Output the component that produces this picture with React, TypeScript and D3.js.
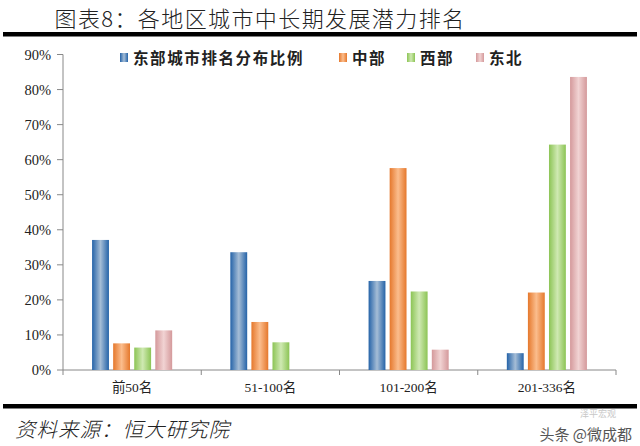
import React from "react";
import * as d3 from "d3";

const categories = ["前50名", "51-100名", "101-200名", "201-336名"];
const seriesNames = ["东部城市排名分布比例", "中部", "西部", "东北"];
const east = [37.1, 33.6, 25.4, 4.8];
const central = [7.6, 13.7, 57.6, 22.1];
const west = [6.4, 7.9, 22.4, 64.3];
const northeast = [11.3, 0, 5.8, 83.6];
const yTicks = [0, 10, 20, 30, 40, 50, 60, 70, 80, 90];

const seriesValues = [east, central, west, northeast];
const edgeColors = ["#2563a8", "#e5782c", "#8cc455", "#d4999b"];
const midColors = ["#a5bdd6", "#fbbd8d", "#cfe9b2", "#f1d3d3"];
const legendX = [120, 339, 407, 476];

const W = 640;
const H = 446;
const left = 63;
const right = 616;
const top = 54.5;
const bottom = 370;

export default function App() {
  const x = d3.scaleBand<string>().domain(categories).range([left, right]);
  const y = d3.scaleLinear().domain([0, 90]).range([bottom, top]);
  const inner = d3
    .scaleBand<number>()
    .domain([0, 1, 2, 3])
    .range([0, x.bandwidth()])
    .paddingInner(0.2)
    .paddingOuter(1.38);
  const cjk = "'Noto Sans CJK SC', sans-serif";
  const serif = "'Liberation Serif', 'Noto Sans CJK SC', serif";
  const bounds = [...categories.map((c) => x(c)!), right];

  return (
    <svg
      width={W}
      height={H}
      style={{ position: "absolute", left: 0, top: 0, background: "#fff" }}
    >
      <defs>
        {edgeColors.map((c, i) => (
          <linearGradient key={i} id={`g${i}`} x1="0" x2="1" y1="0" y2="0">
            <stop offset="0" stopColor={c} />
            <stop offset="0.5" stopColor={midColors[i]} />
            <stop offset="1" stopColor={c} />
          </linearGradient>
        ))}
      </defs>
      <rect x={0} y={0} width={W} height={H} fill="#fff" />
      {/* title */}
      <text
        x={260}
        y={27}
        textAnchor="middle"
        fontFamily={cjk}
        fontWeight={300}
        fontSize={22}
        letterSpacing={1.4}
        fill="#222"
      >
        图表8：各地区城市中长期发展潜力排名
      </text>
      <rect x={3} y={32} width={634} height={4.5} fill="#000" />
      <rect x={3} y={404} width={634} height={4.5} fill="#000" />

      {/* y axis */}
      <line x1={left} x2={left} y1={top} y2={bottom} stroke="#888" />
      {yTicks.map((t) => (
        <g key={t}>
          <line x1={left - 6} x2={left} y1={y(t)} y2={y(t)} stroke="#888" />
          <text
            x={51}
            y={y(t)}
            dy="0.35em"
            textAnchor="end"
            fontFamily={serif}
            fontSize={14.5}
            fill="#222"
          >
            {t}%
          </text>
        </g>
      ))}
      {/* x axis */}
      <line x1={left} x2={right} y1={bottom} y2={bottom} stroke="#888" />
      {bounds.map((b, i) => (
        <line key={i} x1={b} x2={b} y1={bottom} y2={bottom + 5} stroke="#888" />
      ))}
      {categories.map((c) => (
        <text
          key={c}
          x={x(c)! + x.bandwidth() / 2}
          y={392}
          textAnchor="middle"
          fontFamily={serif}
          fontSize={13.5}
          fill="#222"
        >
          {c}
        </text>
      ))}

      {/* bars */}
      {seriesValues.map((vals, si) =>
        vals.map((v, ci) =>
          v > 0 ? (
            <rect
              key={`${si}-${ci}`}
              x={x(categories[ci])! + inner(si)!}
              y={y(v)}
              width={inner.bandwidth()}
              height={bottom - y(v)}
              fill={`url(#g${si})`}
            />
          ) : null
        )
      )}

      {/* legend */}
      {seriesNames.map((n, i) => (
        <g key={n}>
          <rect x={legendX[i]} y={53} width={8} height={9} fill={`url(#g${i})`} />
          <text
            x={legendX[i] + 13}
            y={58}
            dy="0.36em"
            fontFamily={cjk}
            fontWeight={700}
            fontSize={15.5}
            letterSpacing={1.6}
            fill="#222"
          >
            {n}
          </text>
        </g>
      ))}

      {/* source */}
      <text
        x={15}
        y={437}
        fontFamily={cjk}
        fontWeight={300}
        fontSize={20.5}
        fontStyle="italic"
        letterSpacing={1}
        fill="#222"
      >
        资料来源：恒大研究院
      </text>
      <text
        x={598}
        y={417}
        fontFamily={cjk}
        fontSize={9}
        fill="#c8c8c8"
        textAnchor="middle"
      >
        泽平宏观
      </text>
      <text
        x={632}
        y={440}
        fontFamily={cjk}
        fontSize={15}
        fill="#555"
        textAnchor="end"
      >
        头条 @微成都
      </text>
    </svg>
  );
}
